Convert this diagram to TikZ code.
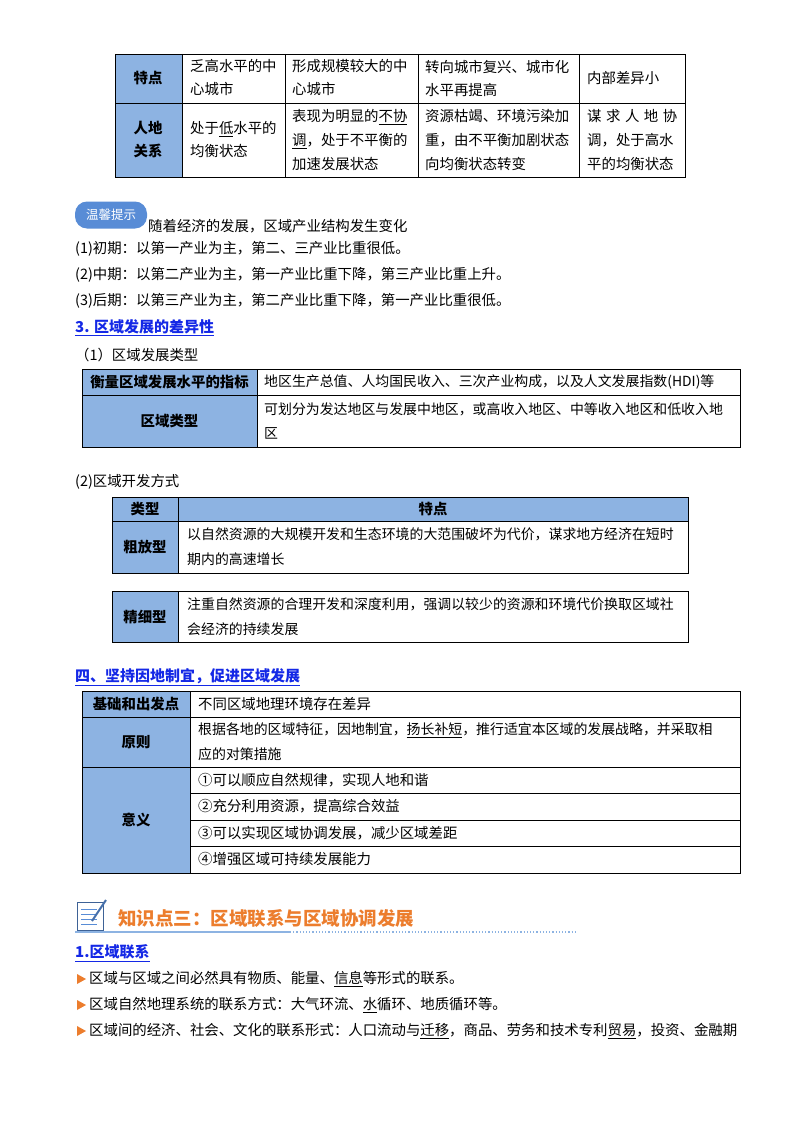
\documentclass[tikz,border=0pt]{standalone}
\usepackage{fontspec}
\setmainfont{Noto Sans CJK SC}
\newcommand\uline[1]{\underline{#1}}
\definecolor{hblue}{RGB}{141,179,226}
\definecolor{tipblue}{RGB}{88,140,214}
\definecolor{lnk}{RGB}{20,40,230}
\definecolor{orng}{RGB}{236,125,45}
\begin{document}
\begin{tikzpicture}[x=1pt,y=-1pt,
  hd/.style={draw=black,line width=0.7pt,fill=hblue},
  cl/.style={draw=black,line width=0.7pt},
  tx/.style={anchor=west,inner sep=0pt,align=left,font=\fontsize{14.4}{23}\selectfont},
  wide/.style={anchor=west,inner sep=0pt,align=left,font=\fontsize{13.9}{25}\selectfont},
  bt/.style={anchor=center,inner sep=0pt,align=center,font=\fontsize{14.4}{23}\selectfont\bfseries},
  body/.style={anchor=west,inner sep=0pt,font=\fontsize{14.4}{16}\selectfont},
  ttl/.style={anchor=west,inner sep=0pt,font=\fontsize{15}{16}\selectfont\bfseries,text=lnk}]
\useasboundingbox (0,0) rectangle (800,1132);
\fill[white] (0,0) rectangle (800,1132);
% table 1
\path[hd] (115,54) rectangle (182,177);
\path[cl] (182,54) rectangle (685,177);
\draw[line width=0.7pt] (115,103)--(685,103) (182,54)--(182,177) (285,54)--(285,177) (418,54)--(418,177) (579,54)--(579,177);
\node[bt] (a1) at (148,78) {特点};
\node[bt] (a2) at (148,140) {人地\\关系};
\node[tx] (a3) at (190,78) {乏高水平的中\\心城市};
\node[tx] (a4) at (292,78) {形成规模较大的中\\心城市};
\node[tx] (a5) at (425,78) {转向城市复兴、城市化\\水平再提高};
\node[tx] (a6) at (587,78) {内部差异小};
\node[tx] (a7) at (190,140) {处于\uline{低}水平的\\均衡状态};
\node[tx,font=\fontsize{14.4}{24}\selectfont] (a8) at (292,140) {表现为明显的\uline{不协}\\\uline{调}，处于不平衡的\\加速发展状态};
\node[tx,font=\fontsize{14.4}{24}\selectfont] (a9) at (425,140) {资源枯竭、环境污染加\\重，由不平衡加剧状态\\向均衡状态转变};
\node[tx,font=\fontsize{14.4}{24}\selectfont] (a10) at (587,140) {谋\hspace{4.5pt}求\hspace{4.5pt}人\hspace{4.5pt}地\hspace{4.5pt}协\\调，处于高水\\平的均衡状态};
% tip
\node[fill=tipblue,rounded corners=12pt,minimum width=72pt,minimum height=27pt,inner sep=0pt,text=white,font=\fontsize{12.5}{14}\selectfont] (tip) at (111,215) {温馨提示};
\node[body,anchor=base west] (t0) at (148,231) {随着经济的发展，区域产业结构发生变化};
\node[body] (t1) at (75,249) {(1)初期：以第一产业为主，第二、三产业比重很低。};
\node[body] (t2) at (75,275) {(2)中期：以第二产业为主，第一产业比重下降，第三产业比重上升。};
\node[body] (t3) at (75,301) {(3)后期：以第三产业为主，第二产业比重下降，第一产业比重很低。};
\node[ttl] (s3) at (75,328) {\uline{3. 区域发展的差异性}};
\node[body] (s31) at (75,355) {（1）区域发展类型};
% table 2
\path[hd] (82,369) rectangle (257,447);
\path[cl] (257,369) rectangle (740,447);
\draw[line width=0.7pt] (82,395)--(740,395);
\node[bt] (b1) at (169.5,382) {衡量区域发展水平的指标};
\node[bt] (b2) at (169.5,421) {区域类型};
\node[wide] (b3) at (264,382) {地区生产总值、人均国民收入、三次产业构成，以及人文发展指数(HDI)等};
\node[wide,font=\fontsize{13.9}{24}\selectfont] (b4) at (264,421) {可划分为发达地区与发展中地区，或高收入地区、中等收入地区和低收入地\\区};
\node[body] (s32) at (75,482) {(2)区域开发方式};
% table 3
\path[hd] (112,497) rectangle (688,521);
\path[hd] (112,521) rectangle (178,573);
\path[cl] (178,521) rectangle (688,573);
\draw[line width=0.7pt] (112,497) rectangle (688,573) (178,497)--(178,573);
\node[bt] (c1) at (145,509) {类型};
\node[bt] (c2) at (433,509) {特点};
\node[bt] (c3) at (145,547) {粗放型};
\node[wide] (c4) at (187,547) {以自然资源的大规模开发和生态环境的大范围破坏为代价，谋求地方经济在短时\\期内的高速增长};
% table 4
\path[hd] (112,591) rectangle (178,642);
\path[cl] (178,591) rectangle (688,642);
\node[bt] (d1) at (145,616.5) {精细型};
\node[wide] (d2) at (187,616.5) {注重自然资源的合理开发和深度利用，强调以较少的资源和环境代价换取区域社\\会经济的持续发展};
\node[ttl] (s4) at (75,677) {\uline{四、坚持因地制宜，促进区域发展}};
% table 5
\path[hd] (82,691) rectangle (190,873);
\path[cl] (190,691) rectangle (740,873);
\draw[line width=0.7pt] (82,717)--(740,717) (82,767)--(740,767) (190,793)--(740,793) (190,820)--(740,820) (190,846)--(740,846);
\node[bt] (e1) at (136,704) {基础和出发点};
\node[bt] (e2) at (136,742) {原则};
\node[bt] (e3) at (136,820) {意义};
\node[tx] (e4) at (198,704) {不同区域地理环境存在差异};
\node[wide] (e5) at (198,742) {根据各地的区域特征，因地制宜，\uline{扬长补短}，推行适宜本区域的发展战略，并采取相\\应的对策措施};
\node[tx] (e6) at (198,780) {①可以顺应自然规律，实现人地和谐};
\node[tx] (e7) at (198,806.5) {②充分利用资源，提高综合效益};
\node[tx] (e8) at (198,833) {③可以实现区域协调发展，减少区域差距};
\node[tx] (e9) at (198,859.5) {④增强区域可持续发展能力};
% section header
\draw[tipblue!70!black,fill=white,line width=1pt] (77,902) rectangle (103,930);
\foreach \yy in {909,914,919,924} \draw[tipblue,line width=1pt] (81,\yy)--(97,\yy);
\draw[tipblue!80!black,line width=2pt] (92,921)--(106,900);
\draw[hblue,line width=1.5pt] (75,932)--(290,932);
\draw[hblue,line width=1.2pt,dotted] (290,932)--(575,932);
\node[anchor=west,inner sep=0pt,text=orng,font=\fontsize{18.5}{20}\selectfont\bfseries] (k3) at (118,918) {知识点三：区域联系与区域协调发展};
\node[ttl] (s5) at (75,953) {\uline{1.区域联系}};
\node[body] (f1) at (89,979) {区域与区域之间必然具有物质、能量、\uline{信息}等形式的联系。};
\node[body] (f2) at (89,1005) {区域自然地理系统的联系方式：大气环流、\uline{水}循环、地质循环等。};
\node[body] (f3) at (89,1031) {区域间的经济、社会、文化的联系形式：人口流动与\uline{迁移}，商品、劳务和技术专利\uline{贸易}，投资、金融期};
\foreach \n in {f1,f2,f3} \fill[orng] ([xshift=-12pt,yshift=5pt]\n.west)--([xshift=-12pt,yshift=-5pt]\n.west)--([xshift=-3pt]\n.west)--cycle;
\end{tikzpicture}
\end{document}
